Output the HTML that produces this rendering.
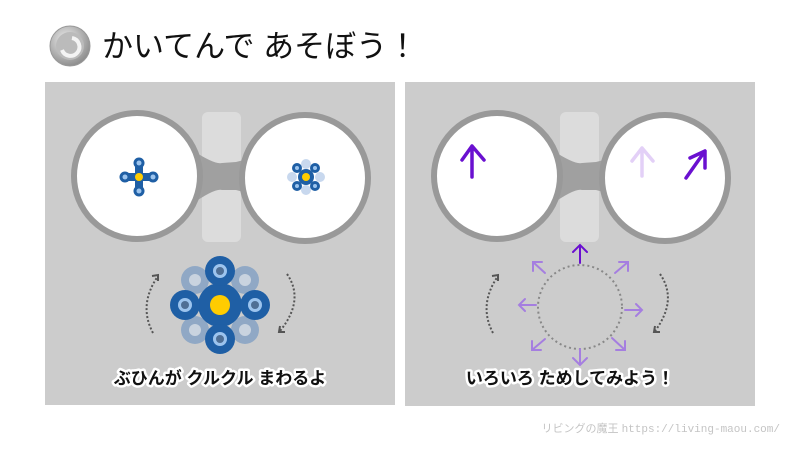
<!DOCTYPE html>
<html><head><meta charset="utf-8"><style>
html,body{margin:0;padding:0;background:#fff;width:800px;height:450px;overflow:hidden}
svg{display:block}
.t{font-family:"Liberation Sans","Noto Sans CJK JP",sans-serif}
</style></head><body>
<svg width="800" height="450" viewBox="0 0 800 450" xmlns="http://www.w3.org/2000/svg">
<defs>
<radialGradient id="btn" cx="0.4" cy="0.35" r="0.7"><stop offset="0" stop-color="#eee"/><stop offset="1" stop-color="#888"/></radialGradient>
</defs>
<!-- header -->
<circle cx="70" cy="46" r="20" fill="url(#btn)" stroke="#999"/>
<circle cx="70" cy="46" r="14" fill="#bbb"/>
<path d="M62,50 A9,9 0 1 0 72,38" fill="none" stroke="#f4f4f4" stroke-width="4"/>
<text x="102" y="57" class="t" font-size="31" fill="#111">かいてんで あそぼう！</text>

<!-- panels -->
<rect x="45" y="82" width="350" height="323" fill="#cccccc"/>
<rect x="405" y="82" width="350" height="324" fill="#cccccc"/>

<!-- left panel frame -->
<rect x="202" y="112" width="39" height="130" rx="6" fill="#dcdcdc"/>
<path d="M192,150 Q215,165 222,163 L236,162 Q245,160 252,156 L252,196 Q245,192 236,190 L222,190 Q215,188 192,204 Z" fill="#a0a0a0"/>
<circle cx="137" cy="176" r="63" fill="#fff" stroke="#999" stroke-width="6"/>
<circle cx="305" cy="178" r="63" fill="#fff" stroke="#999" stroke-width="6"/>

<!-- small spinners -->
<g fill="#1f5fa5">
<rect x="126" y="173" width="26" height="8"/><rect x="135" y="164" width="8" height="26"/>
<circle cx="139" cy="163" r="5.5"/><circle cx="139" cy="191" r="5.5"/><circle cx="125" cy="177" r="5.5"/><circle cx="153" cy="177" r="5.5"/>
</g>
<g fill="#9cc4ee"><circle cx="139" cy="163" r="2.5"/><circle cx="139" cy="191" r="2.5"/><circle cx="125" cy="177" r="2.5"/><circle cx="153" cy="177" r="2.5"/></g>
<circle cx="139" cy="177" r="4" fill="#ffcc00"/>
<g fill="#c8d8ee"><circle cx="306" cy="164" r="5"/><circle cx="306" cy="190" r="5"/><circle cx="292" cy="177" r="5"/><circle cx="320" cy="177" r="5"/></g>
<g fill="#1f5fa5"><circle cx="306" cy="177" r="8"/><circle cx="297" cy="168" r="5"/><circle cx="315" cy="168" r="5"/><circle cx="297" cy="186" r="5"/><circle cx="315" cy="186" r="5"/></g>
<g fill="#9cc4ee"><circle cx="297" cy="168" r="2"/><circle cx="315" cy="168" r="2"/><circle cx="297" cy="186" r="2"/><circle cx="315" cy="186" r="2"/></g>
<circle cx="306" cy="177" r="4" fill="#ffcc00"/>

<!-- big spinner -->
<g fill="#8aa5c5" opacity="0.9">
<circle cx="195" cy="280" r="14"/><circle cx="245" cy="280" r="14"/><circle cx="195" cy="330" r="14"/><circle cx="245" cy="330" r="14"/>
</g>
<g fill="#c9d3df"><circle cx="195" cy="280" r="6"/><circle cx="245" cy="280" r="6"/><circle cx="195" cy="330" r="6"/><circle cx="245" cy="330" r="6"/></g>
<g fill="#1f5fa5">
<circle cx="220" cy="305" r="22"/>
<circle cx="220" cy="271" r="15"/><circle cx="220" cy="339" r="15"/><circle cx="185" cy="305" r="15"/><circle cx="255" cy="305" r="15"/>
</g>
<g fill="#9cc4ee"><circle cx="220" cy="271" r="7"/><circle cx="220" cy="339" r="7"/><circle cx="185" cy="305" r="7"/><circle cx="255" cy="305" r="7"/></g>
<g fill="#4f6f95"><circle cx="220" cy="271" r="4"/><circle cx="220" cy="339" r="4"/><circle cx="185" cy="305" r="4"/><circle cx="255" cy="305" r="4"/></g>
<circle cx="220" cy="305" r="10" fill="#ffcc00"/>

<!-- dotted rotation arrows -->
<g fill="none" stroke="#555" stroke-width="2" stroke-dasharray="2 2">
<path d="M153,333 Q138,305 158,276"/><path d="M287,274 Q305,300 280,331"/>
<path d="M493,333 Q478,305 498,276"/><path d="M660,274 Q678,300 655,331"/>
</g>
<g fill="none" stroke="#555" stroke-width="2">
<path d="M152,276 L158,275 L158,281"/><path d="M280,326 L279,332 L285,332"/>
<path d="M492,276 L498,275 L498,281"/><path d="M655,326 L654,332 L660,332"/>
</g>

<!-- right panel frame -->
<rect x="560" y="112" width="39" height="130" rx="6" fill="#dcdcdc"/>
<path d="M552,150 Q575,165 582,163 L596,162 Q605,160 612,156 L612,196 Q605,192 596,190 L582,190 Q575,188 552,204 Z" fill="#a0a0a0"/>
<circle cx="497" cy="176" r="63" fill="#fff" stroke="#999" stroke-width="6"/>
<circle cx="665" cy="178" r="63" fill="#fff" stroke="#999" stroke-width="6"/>

<g fill="none" stroke-linecap="round" stroke-linejoin="round" stroke-width="3.5">
<path d="M472,177 L472,146 M462,160 L472,146 L484,160" stroke="#6a10d0"/>
<path d="M642,176 L642,148 M632,161 L642,148 L653,161" stroke="#e3d0f7"/>
<path d="M686,178 L705,151 M690,158 L705,151 L705,168" stroke="#6a10d0"/>
</g>

<!-- dotted circle and arrows -->
<circle cx="580" cy="307" r="42" fill="none" stroke="#888" stroke-width="2" stroke-dasharray="2 3"/>
<g fill="none" stroke="#a57ee0" stroke-width="2" stroke-linecap="round">
<path d="M580,263 L580,245 M573,252 L580,245 L587,252" stroke="#6a10d0"/>
<path d="M545,273 L533,262 M533,271 L533,262 L542,262"/>
<path d="M615,273 L628,262 M619,262 L628,262 L628,271"/>
<path d="M536,305 L519,305 M525,299 L519,305 L525,311"/>
<path d="M625,310 L642,310 M636,304 L642,310 L636,316"/>
<path d="M545,339 L532,350 M532,341 L532,350 L541,350"/>
<path d="M612,338 L625,350 M625,341 L625,350 L616,350"/>
<path d="M580,349 L580,365 M573,358 L580,365 L587,358"/>
</g>

<!-- captions -->
<g class="t" font-size="17" font-weight="bold" text-anchor="middle">
<text x="220" y="384" stroke="#fff" stroke-width="5" stroke-linejoin="round" fill="#fff">ぶひんが クルクル まわるよ</text>
<text x="220" y="384" fill="#111">ぶひんが クルクル まわるよ</text>
<text x="570" y="384" stroke="#fff" stroke-width="5" stroke-linejoin="round" fill="#fff">いろいろ ためしてみよう！</text>
<text x="570" y="384" fill="#111">いろいろ ためしてみよう！</text>
</g>
<text x="780" y="432" font-size="11" fill="#c4c4c4" text-anchor="end"><tspan font-family="Liberation Sans,Noto Sans CJK JP,sans-serif">リビングの魔王 </tspan><tspan font-family="Liberation Mono,monospace">https://living-maou.com/</tspan></text>
</svg>
</body></html>
